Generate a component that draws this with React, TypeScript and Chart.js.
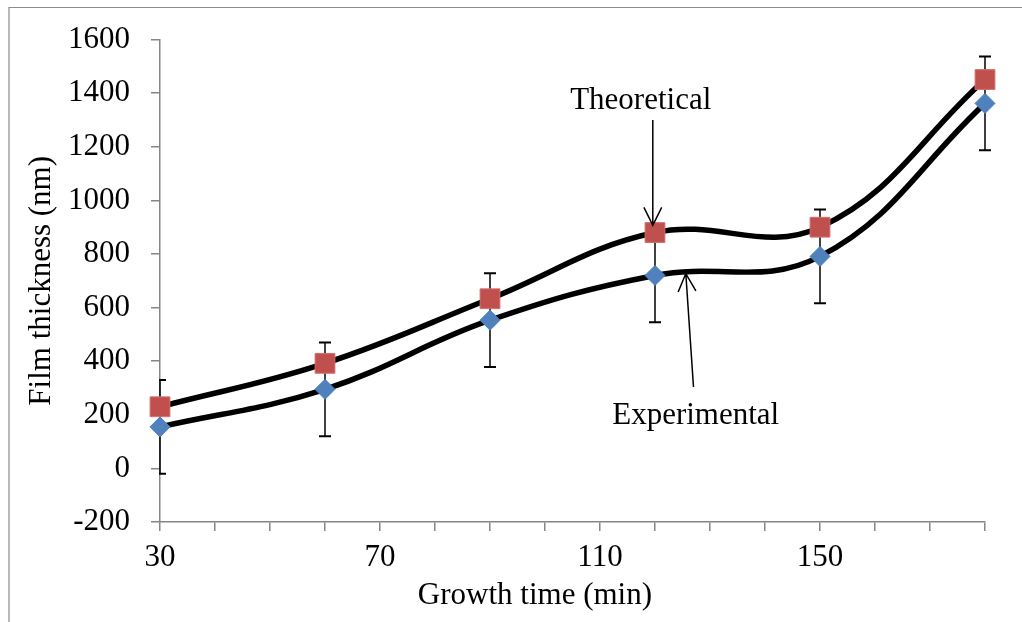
import React, { useEffect, useRef } from "react";
import { Chart, registerables } from "chart.js";

Chart.register(...registerables);

// ---- data ----
const growthTimes = [30, 60, 90, 120, 150, 180];
const theoretical = [230, 392, 633, 880, 900, 1451];
const experimental = [155, 295, 553, 720, 791, 1362];
const experimentalError = [175, 175, 175, 175, 175, 175];

const xMin = 30;
const xMax = 180;
const xLabelStep = 40;
const yMin = -200;
const yMax = 1600;
const yStep = 200;

const xTitle = "Growth time (min)";
const yTitle = "Film thickness (nm)";

// annotation anchors in data units
const theoLabel = { text: "Theoretical", x: 117.4, y: 1372 };
const theoArrow = { x1: 119.6, y1: 1300, x2: 119.6, y2: 907 };
const expLabel = { text: "Experimental", x: 127.4, y: 195 };
const expArrow = { x1: 127.0, y1: 304, x2: 125.6, y2: 727 };

const FONT = "'Liberation Serif', 'Times New Roman', serif";
const AXIS_GRAY = "#868686";

const frameAndErrorPlugin = {
  id: "frameAndError",
  beforeDraw(chart: any) {
    const ctx = chart.ctx;
    ctx.save();
    ctx.fillStyle = "#ffffff";
    ctx.fillRect(0, 0, chart.width, chart.height);
    ctx.strokeStyle = "#8c8c8c";
    ctx.lineWidth = 1.2;
    ctx.beginPath();
    ctx.moveTo(9, chart.height);
    ctx.lineTo(9, 7.5);
    ctx.lineTo(chart.width, 7.5);
    ctx.stroke();
    ctx.restore();
  },
  afterDraw(chart: any) {
    // x-axis title, placed as in the reference (left of plot centre)
    const ctx = chart.ctx;
    const area = chart.chartArea;
    ctx.save();
    ctx.fillStyle = "#000000";
    ctx.font = `31px ${FONT}`;
    ctx.textAlign = "center";
    ctx.textBaseline = "middle";
    const cx = area.left + (area.right - area.left) * 0.4545;
    ctx.fillText(xTitle, cx, area.bottom + 74);
    ctx.restore();
  },
  beforeDatasetsDraw(chart: any) {
    const ctx = chart.ctx;
    const xs = chart.scales.x;
    const ys = chart.scales.y;
    const area = chart.chartArea;
    ctx.save();
    ctx.beginPath();
    ctx.rect(area.left - 1, area.top - 20, area.right - area.left + 40, area.bottom - area.top + 40);
    ctx.clip();
    ctx.strokeStyle = "#000000";
    growthTimes.forEach((t, i) => {
      const px = xs.getPixelForValue(t);
      const top = ys.getPixelForValue(experimental[i] + experimentalError[i]);
      const bot = ys.getPixelForValue(experimental[i] - experimentalError[i]);
      ctx.lineWidth = 1.5;
      ctx.beginPath();
      ctx.moveTo(px, top);
      ctx.lineTo(px, bot);
      ctx.stroke();
      ctx.lineWidth = 2;
      ctx.beginPath();
      ctx.moveTo(px - 6, top);
      ctx.lineTo(px + 6, top);
      ctx.moveTo(px - 6, bot);
      ctx.lineTo(px + 6, bot);
      ctx.stroke();
    });
    ctx.restore();
  },
};

function drawArrow(ctx: any, x1: number, y1: number, x2: number, y2: number) {
  const ang = Math.atan2(y2 - y1, x2 - x1);
  const len = 20;
  const spread = 0.46;
  ctx.beginPath();
  ctx.moveTo(x1, y1);
  ctx.lineTo(x2, y2);
  ctx.moveTo(x2 - len * Math.cos(ang - spread), y2 - len * Math.sin(ang - spread));
  ctx.lineTo(x2, y2);
  ctx.lineTo(x2 - len * Math.cos(ang + spread), y2 - len * Math.sin(ang + spread));
  ctx.stroke();
}

const annotationPlugin = {
  id: "annotations",
  afterDatasetsDraw(chart: any) {
    const ctx = chart.ctx;
    const xs = chart.scales.x;
    const ys = chart.scales.y;
    ctx.save();
    ctx.strokeStyle = "#000000";
    ctx.lineWidth = 1.5;
    drawArrow(
      ctx,
      xs.getPixelForValue(theoArrow.x1),
      ys.getPixelForValue(theoArrow.y1),
      xs.getPixelForValue(theoArrow.x2),
      ys.getPixelForValue(theoArrow.y2)
    );
    drawArrow(
      ctx,
      xs.getPixelForValue(expArrow.x1),
      ys.getPixelForValue(expArrow.y1),
      xs.getPixelForValue(expArrow.x2),
      ys.getPixelForValue(expArrow.y2)
    );
    ctx.fillStyle = "#000000";
    ctx.font = `31px ${FONT}`;
    ctx.textAlign = "center";
    ctx.textBaseline = "middle";
    ctx.fillText(theoLabel.text, xs.getPixelForValue(theoLabel.x), ys.getPixelForValue(theoLabel.y));
    ctx.fillText(expLabel.text, xs.getPixelForValue(expLabel.x), ys.getPixelForValue(expLabel.y));
    ctx.restore();
  },
};

export default function App() {
  const canvasRef = useRef<HTMLCanvasElement | null>(null);

  useEffect(() => {
    document.body.style.margin = "0";
    const canvas = canvasRef.current;
    if (!canvas) return;
    const chart = new Chart(canvas, {
      type: "line",
      data: {
        datasets: [
          {
            label: "Theoretical",
            data: growthTimes.map((t, i) => ({ x: t, y: theoretical[i] })),
            borderColor: "#000000",
            borderWidth: 5.5,
            tension: 0.4,
            pointStyle: "rect",
            pointRadius: 14,
            pointHoverRadius: 14,
            pointBackgroundColor: "#C0504D",
            pointBorderColor: "#D46F6C",
            pointBorderWidth: 1,
            clip: false as any,
          },
          {
            label: "Experimental",
            data: growthTimes.map((t, i) => ({ x: t, y: experimental[i] })),
            borderColor: "#000000",
            borderWidth: 5.5,
            tension: 0.4,
            pointStyle: "rectRot",
            pointRadius: 10,
            pointHoverRadius: 10,
            pointBackgroundColor: "#4F81BD",
            pointBorderColor: "#4F81BD",
            pointBorderWidth: 1,
            clip: false as any,
          },
        ],
      },
      options: {
        animation: false,
        responsive: true,
        maintainAspectRatio: false,
        layout: { padding: { top: 39, right: 37, left: 0, bottom: 0 } },
        plugins: {
          legend: { display: false },
          tooltip: { enabled: false },
        },
        scales: {
          x: {
            type: "linear",
            min: xMin,
            max: xMax,
            afterFit: (scale: any) => {
              scale.height = 100;
            },
            ticks: {
              stepSize: 10,
              autoSkip: false,
              maxRotation: 0,
              padding: 8,
              color: "#000000",
              font: { family: FONT, size: 31 },
              callback: (v: any) => ((Number(v) - xMin) % xLabelStep === 0 ? String(v) : ""),
            },
            grid: {
              drawOnChartArea: false,
              drawTicks: true,
              tickLength: 9,
              color: AXIS_GRAY,
              lineWidth: 1.5,
            },
            border: { display: true, color: AXIS_GRAY, width: 1.5 },
            title: { display: false },
          },
          y: {
            type: "linear",
            min: yMin,
            max: yMax,
            afterFit: (scale: any) => {
              scale.width = 160;
            },
            ticks: {
              stepSize: yStep,
              padding: 21,
              color: "#000000",
              font: { family: FONT, size: 31 },
              callback: (v: any) => String(v),
            },
            grid: {
              drawOnChartArea: false,
              drawTicks: true,
              tickLength: 9,
              color: AXIS_GRAY,
              lineWidth: 1.5,
            },
            border: { display: true, color: AXIS_GRAY, width: 1.5 },
            title: {
              display: true,
              text: yTitle,
              color: "#000000",
              font: { family: FONT, size: 31 },
              padding: { top: 23, bottom: 0 },
            },
          },
        },
      },
      plugins: [frameAndErrorPlugin, annotationPlugin],
    });
    return () => chart.destroy();
  }, []);

  return (
    <div style={{ position: "absolute", left: 0, top: 0, width: 1022, height: 622 }}>
      <canvas ref={canvasRef} />
    </div>
  );
}
